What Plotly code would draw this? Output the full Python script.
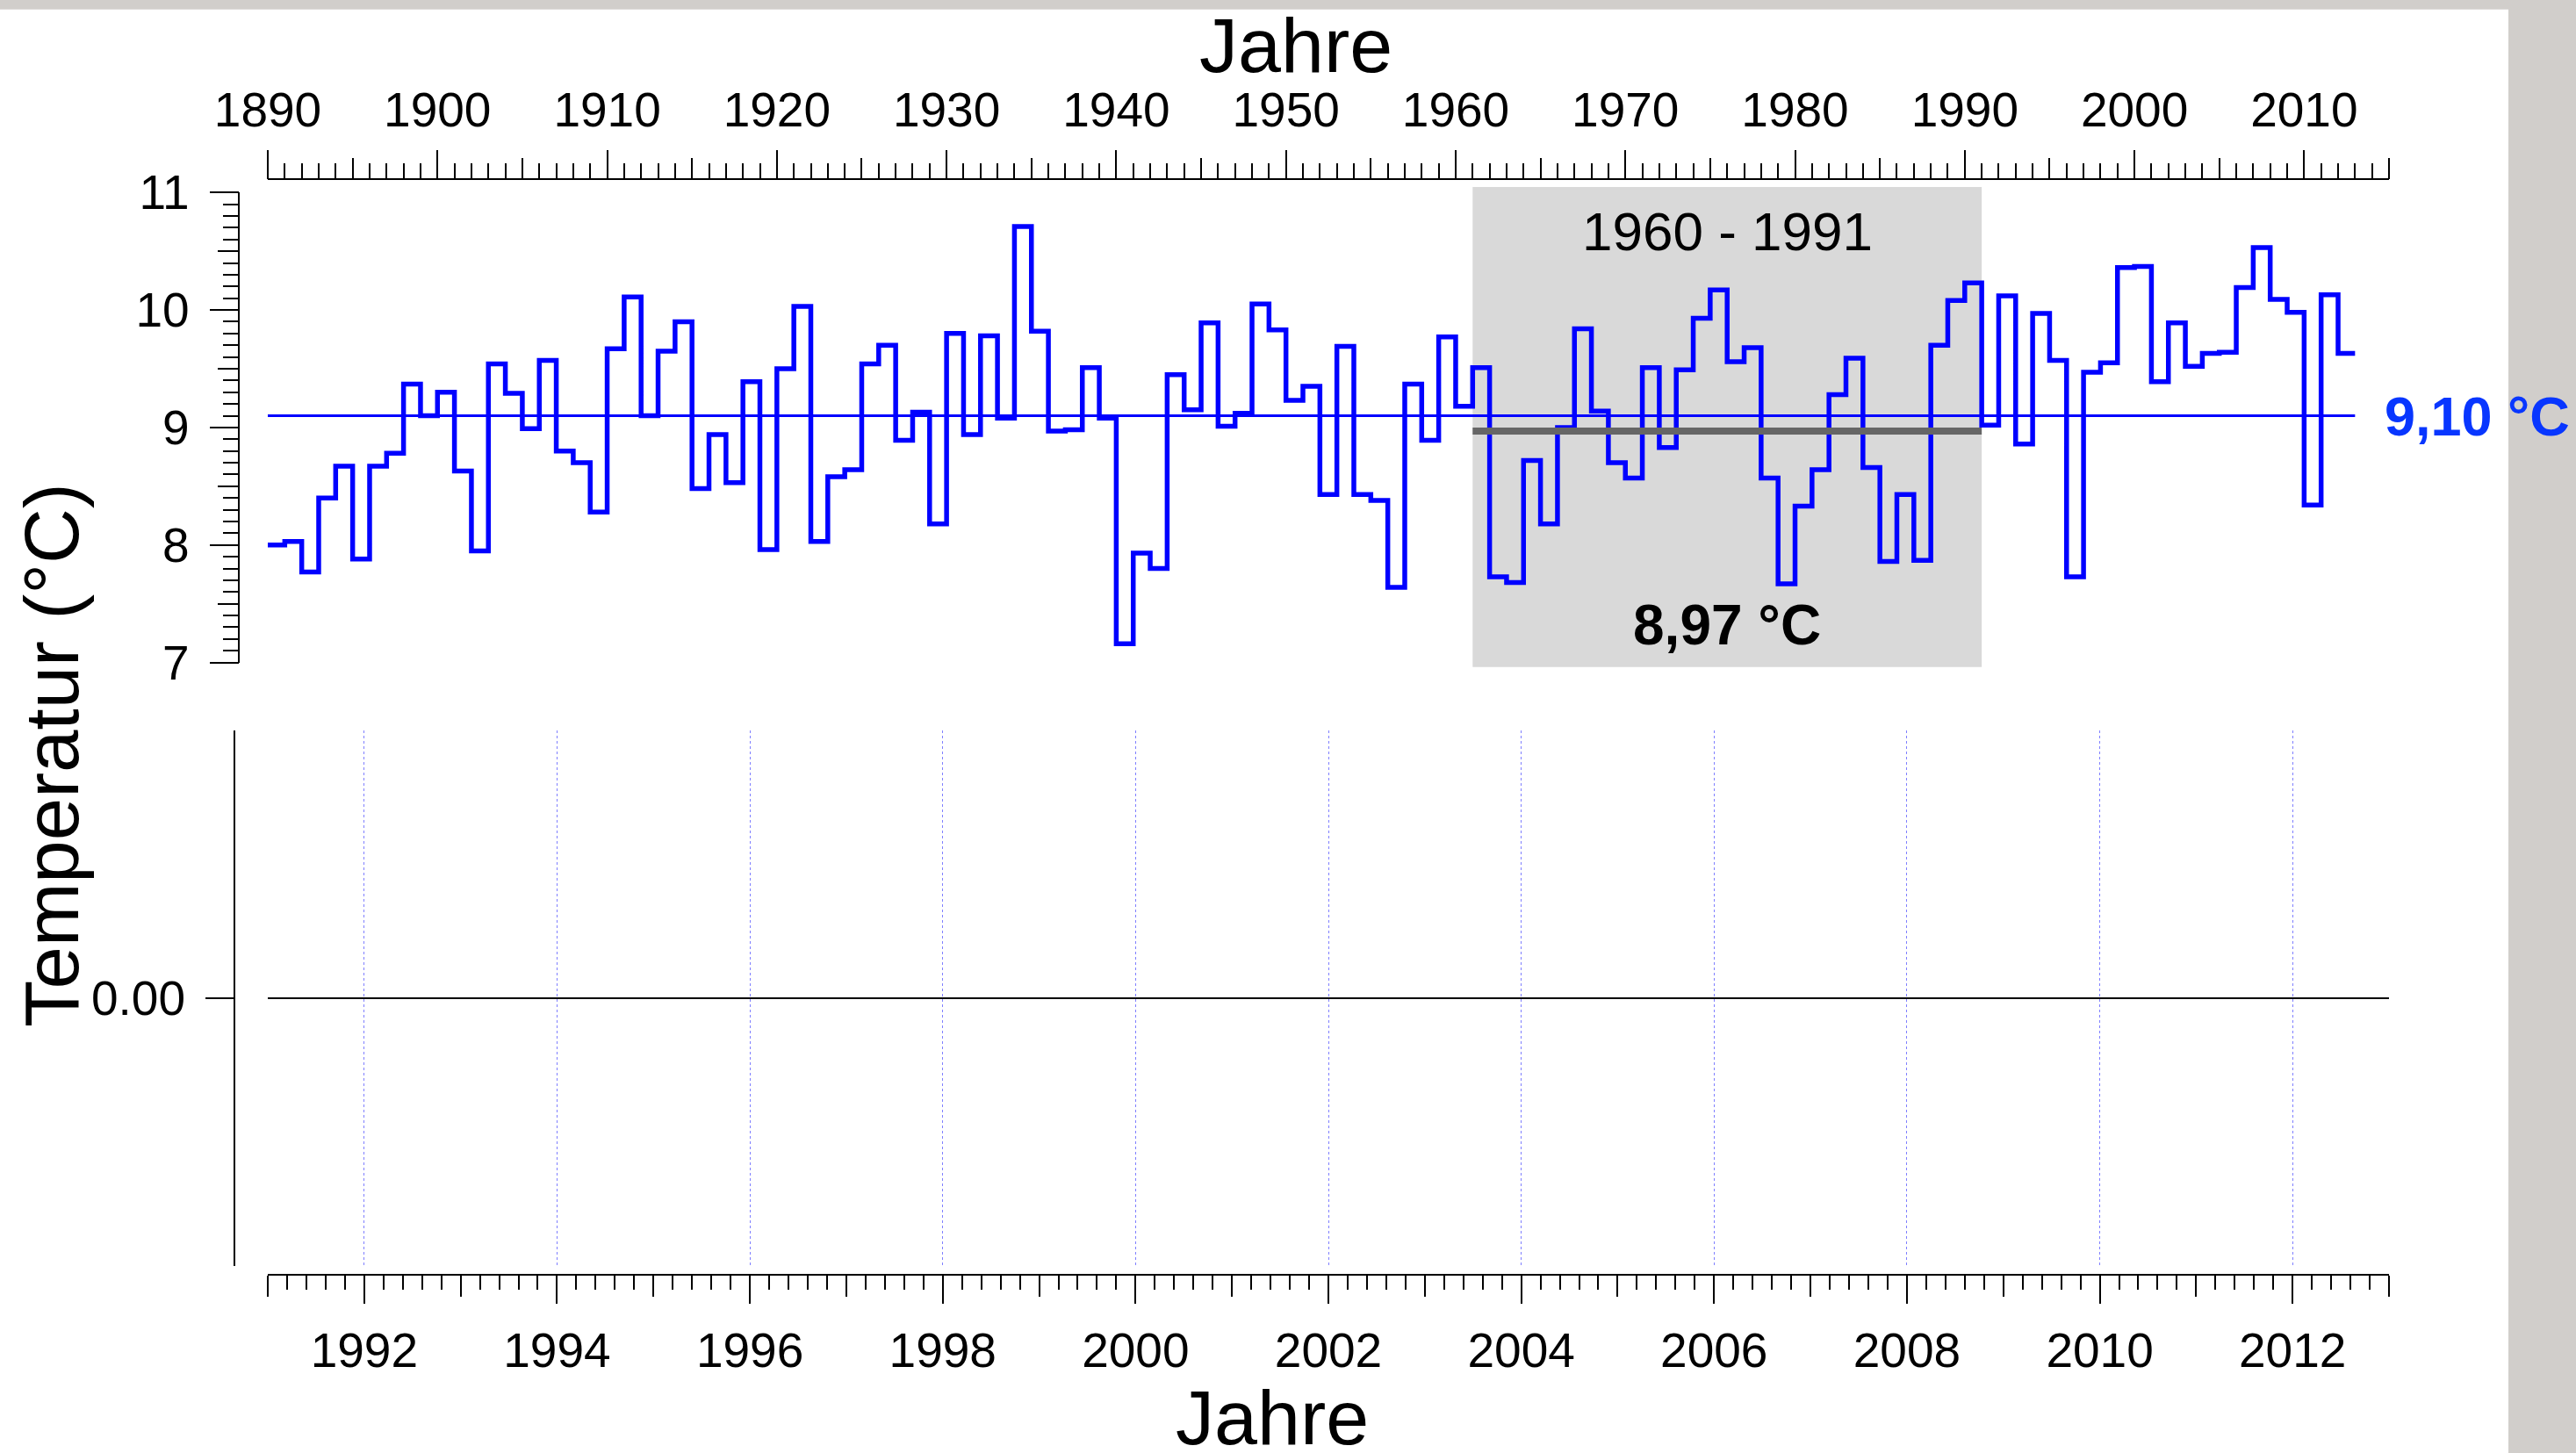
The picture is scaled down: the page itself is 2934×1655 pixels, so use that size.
import plotly.graph_objects as go

W, H = 2934, 1655

# ---------------- data ----------------
years = list(range(1890, 2013))
temps = [
    8.00, 8.03, 7.77, 8.40, 8.67, 7.88, 8.67, 8.78, 9.37, 9.10,   # 1890-1899
    9.30, 8.63, 7.95, 9.54, 9.29, 8.99, 9.57, 8.80, 8.70, 8.28,   # 1900-1909
    9.67, 10.11, 9.10, 9.65, 9.90, 8.48, 8.94, 8.53, 9.39, 7.96,  # 1910-1919
    9.50, 10.03, 8.03, 8.58, 8.64, 9.54, 9.70, 8.89, 9.13, 8.18,  # 1920-1929
    9.80, 8.94, 9.78, 9.08, 10.71, 9.82, 8.97, 8.98, 9.51, 9.08,  # 1930-1939
    7.16, 7.93, 7.80, 9.45, 9.15, 9.89, 9.01, 9.12, 10.05, 9.83,  # 1940-1949
    9.23, 9.35, 8.43, 9.69, 8.43, 8.38, 7.64, 9.37, 8.89, 9.77,   # 1950-1959
    9.18, 9.51, 7.73, 7.68, 8.72, 8.18, 9.00, 9.84, 9.14, 8.70,   # 1960-1969
    8.57, 9.51, 8.83, 9.49, 9.93, 10.17, 9.56, 9.68, 8.57, 7.67,  # 1970-1979
    8.33, 8.64, 9.28, 9.59, 8.66, 7.86, 8.43, 7.87, 9.70, 10.08,  # 1980-1989
    10.23, 9.02, 10.12, 8.86, 9.97, 9.57, 7.73, 9.47, 9.55, 10.36,  # 1990-1999
    10.37, 9.39, 9.89, 9.52, 9.63, 9.64, 10.19, 10.53, 10.09, 9.98,  # 2000-2009
    8.34, 10.13, 9.63,                                               # 2010-2012
]
MEAN_ALL = 9.10
MEAN_REF = 8.97
REF_START, REF_END = 1961, 1991
REF_LABEL = "1960 - 1991"
MEAN_ALL_LABEL = "9,10 °C"
MEAN_REF_LABEL = "8,97 °C"
TOP_X_RANGE = [1890, 2015]
TOP_Y_RANGE = [7, 11]
BOTTOM_X_RANGE = [1991, 2013]
BOTTOM_Y_RANGE = [-1, 1]
BOTTOM_Y_TICKS = [0]

# ---------------- layout geometry (pixels -> paper) ----------------
def px(x):
    return x / W

def py(y):
    return 1 - y / H

XL, XR = px(305), px(2721)
TOP_DOM = [py(754.6), py(219.2)]
BOT_DOM = [py(1442), py(831.6)]

FONT = "Liberation Sans, Arial, Helvetica, sans-serif"
tickfont = dict(family=FONT, size=55, color="black")

x_step = years + [years[-1] + 1]
y_step = temps + [temps[-1]]

fig = go.Figure()
fig.add_trace(go.Scatter(x=[years[0], years[-1] + 1], y=[MEAN_ALL, MEAN_ALL], mode="lines",
                         line=dict(color="#0000ff", width=3), xaxis="x", yaxis="y",
                         hoverinfo="skip", showlegend=False))
fig.add_trace(go.Scatter(x=x_step, y=y_step, mode="lines",
                         line=dict(color="#0000ff", width=5.5, shape="hv"),
                         xaxis="x", yaxis="y", showlegend=False))
fig.add_trace(go.Scatter(x=[REF_START, REF_END], y=[MEAN_REF, MEAN_REF], mode="lines",
                         line=dict(color="#666666", width=8), xaxis="x", yaxis="y",
                         showlegend=False))
# empty panel + tick overlay helpers
fig.add_trace(go.Scatter(x=[], y=[], xaxis="x2", yaxis="y2", showlegend=False))
fig.add_trace(go.Scatter(x=[], y=[], xaxis="x3", yaxis="y", showlegend=False))
fig.add_trace(go.Scatter(x=[], y=[], xaxis="x4", yaxis="y2", showlegend=False))
fig.add_trace(go.Scatter(x=[], y=[], xaxis="x", yaxis="y3", showlegend=False))

common = dict(showgrid=False, zeroline=False, ticks="outside", tickwidth=2,
              tickcolor="black", showline=True, linewidth=2, linecolor="black",
              fixedrange=True)
overlay = dict(showgrid=False, zeroline=False, ticks="outside", tickwidth=2,
               tickcolor="black", showline=False, showticklabels=False, fixedrange=True)

fig.update_layout(
    width=W, height=H, autosize=False,
    margin=dict(l=0, r=0, t=0, b=0, pad=0, autoexpand=False),
    paper_bgcolor="white", plot_bgcolor="rgba(0,0,0,0)",
    showlegend=False,
    xaxis=dict(domain=[XL, XR], range=TOP_X_RANGE, side="top", anchor="free",
               position=py(204.3), tickmode="linear", tick0=1890, dtick=10,
               ticklen=32, tickfont=tickfont, ticklabelstandoff=5,
               minor=dict(ticks="outside", dtick=1, tick0=1890, ticklen=17,
                          tickwidth=2, tickcolor="black"),
               **common),
    xaxis3=dict(overlaying="x", range=TOP_X_RANGE, side="top", anchor="free",
                position=py(204.3), tickmode="linear", tick0=1890, dtick=5,
                ticklen=24, **overlay),
    yaxis=dict(domain=TOP_DOM, range=TOP_Y_RANGE, anchor="free", position=px(271.7),
               tickmode="linear", tick0=7, dtick=1, ticklen=32, tickfont=tickfont,
               ticklabelstandoff=12,
               minor=dict(ticks="outside", dtick=0.1, tick0=7, ticklen=17,
                          tickwidth=2, tickcolor="black"),
               **common),
    yaxis3=dict(overlaying="y", range=TOP_Y_RANGE, anchor="free", position=px(271.7),
                side="left", tickmode="linear", tick0=7, dtick=0.5, ticklen=24, **overlay),
    xaxis2=dict(domain=[XL, XR], range=BOTTOM_X_RANGE, side="bottom", anchor="free",
                position=py(1451.6), tickmode="linear", tick0=1992, dtick=2,
                ticklen=32, tickfont=tickfont, ticklabelstandoff=6,
                minor=dict(ticks="outside", dtick=0.2, tick0=1991, ticklen=16,
                           tickwidth=2, tickcolor="black", showgrid=False),
                showline=True, linewidth=2, linecolor="black", ticks="outside",
                tickwidth=2, tickcolor="black", zeroline=False, fixedrange=True,
                showgrid=True, gridcolor="#7f7fff", gridwidth=1, griddash="dot"),
    xaxis4=dict(overlaying="x2", range=BOTTOM_X_RANGE, side="bottom", anchor="free",
                position=py(1451.6), tickmode="linear", tick0=1991, dtick=1,
                ticklen=24, **overlay),
    yaxis2=dict(domain=BOT_DOM, range=BOTTOM_Y_RANGE, anchor="free", position=px(267),
                tickmode="array", tickvals=BOTTOM_Y_TICKS, tickformat=".2f",
                ticklen=32, tickfont=tickfont, ticklabelstandoff=12,
                showgrid=False, zeroline=True, zerolinecolor="black", zerolinewidth=2,
                ticks="outside", tickwidth=2, tickcolor="black", showline=True,
                linewidth=2, linecolor="black", fixedrange=True),
)

shapes = [
    # page background strips
    dict(type="rect", xref="paper", yref="paper", x0=px(2857), x1=1, y0=0, y1=1,
         fillcolor="#d1cecb", line=dict(width=0), layer="below"),
    dict(type="rect", xref="paper", yref="paper", x0=0, x1=1, y0=py(10.7), y1=1,
         fillcolor="#d1cecb", line=dict(width=0), layer="below"),
    # reference period band
    dict(type="rect", xref="x", yref="y domain", x0=REF_START, x1=REF_END,
         y0=-0.0098, y1=1.0118, fillcolor="#d9d9d9", line=dict(width=0), layer="below"),
]
fig.update_layout(shapes=shapes)

annotations = [
    dict(text="Jahre", xref="paper", yref="paper", x=px(1476), y=py(51),
         xanchor="center", yanchor="middle", showarrow=False,
         font=dict(family=FONT, size=88, color="black")),
    dict(text="Jahre", xref="paper", yref="paper", x=px(1449), y=py(1614),
         xanchor="center", yanchor="middle", showarrow=False,
         font=dict(family=FONT, size=88, color="black")),
    dict(text="Temperatur (°C)", xref="paper", yref="paper", x=px(58), y=py(860),
         xanchor="center", yanchor="middle", showarrow=False, textangle=-90,
         font=dict(family=FONT, size=87, color="black")),
    dict(text=REF_LABEL, xref="x", yref="y", x=(REF_START + REF_END) / 2, y=10.67,
         xanchor="center", yanchor="middle", showarrow=False,
         font=dict(family=FONT, size=62, color="black")),
    dict(text="<b>" + MEAN_REF_LABEL + "</b>", xref="x", yref="y",
         x=(REF_START + REF_END) / 2, y=7.32, xanchor="center", yanchor="middle",
         showarrow=False, font=dict(family=FONT, size=64, color="black")),
    dict(text="<b>" + MEAN_ALL_LABEL + "</b>", xref="paper", yref="y",
         x=px(2714), y=MEAN_ALL, xanchor="left", yanchor="middle",
         showarrow=False, font=dict(family=FONT, size=63, color="#0836ff")),
]
fig.update_layout(annotations=annotations)

fig.write_html("out.html",
               config=dict(displayModeBar=False),
               post_script="document.body.style.margin='0';document.body.style.overflow='hidden';")
